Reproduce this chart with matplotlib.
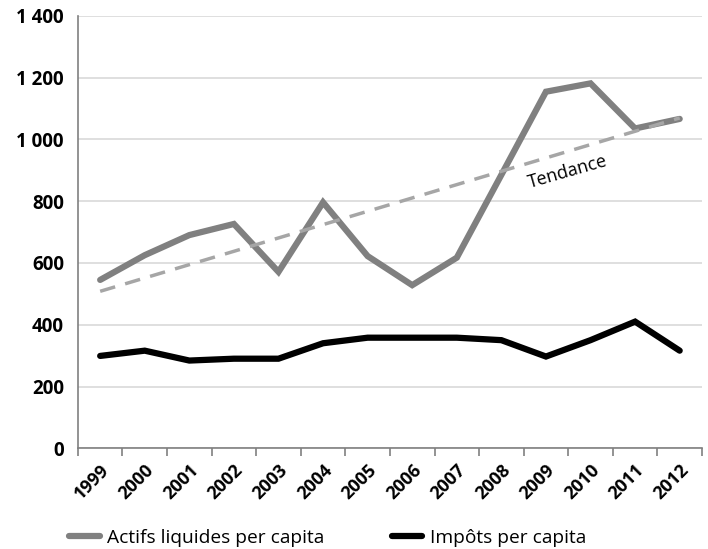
import numpy as np
import matplotlib
matplotlib.use("Agg")
import matplotlib.pyplot as plt
from matplotlib.ticker import FuncFormatter

years = ["1999", "2000", "2001", "2002", "2003", "2004", "2005", "2006",
         "2007", "2008", "2009", "2010", "2011", "2012"]
actifs = [545, 625, 690, 726, 571, 796, 622, 528, 617, 885, 1154, 1181, 1035, 1066]
impots = [299, 316, 284, 290, 290, 340, 358, 358, 358, 350, 297, 350, 410, 316]
yticks = [0, 200, 400, 600, 800, 1000, 1200, 1400]

plt.rcParams['font.family'] = ['Open Sans', 'DejaVu Sans']

fig = plt.figure(figsize=(7.08, 5.49), dpi=100)
ax = fig.add_axes([0.110, 0.1834, 0.8815, 0.788])

x = np.arange(len(years))
ax.plot(x, actifs, color='#808080', lw=4.5, solid_capstyle='round',
        solid_joinstyle='miter', label='Actifs liquides per capita', zorder=3)
ax.plot(x, impots, color='#000000', lw=4.5, solid_capstyle='round',
        solid_joinstyle='miter', label='Impôts per capita', zorder=3)

coef = np.polyfit(x, actifs, 1)
trend = np.polyval(coef, x)
ax.plot(x, trend, color='#a6a6a6', lw=2.5, ls=(0, (4.5, 3)), zorder=4)
ax.text(10.5, 893, 'Tendance', rotation=16, ha='center', va='center',
        fontsize=13, color='#000000', rotation_mode='anchor')

ax.set_xlim(-0.5, len(years) - 0.5)
ax.set_ylim(0, 1400)
ax.set_yticks(yticks)
ax.yaxis.set_major_formatter(FuncFormatter(lambda v, p: f"{int(v):,}".replace(",", " ")))
ax.grid(axis='y', color='#d9d9d9', lw=1.2)
ax.set_axisbelow(True)

ax.set_xticks(x)
ax.set_xticklabels(years, rotation=45, ha='right', rotation_mode='anchor',
                   fontsize=13, fontweight='bold')
ax.set_xticks(np.arange(-0.5, len(years)), minor=True)
ax.tick_params(axis='x', which='major', length=0, pad=9)
ax.tick_params(axis='x', which='minor', length=6, color='#808080', width=1.2)
ax.tick_params(axis='y', length=0, labelsize=13.5, pad=10)
for lab in ax.get_yticklabels():
    lab.set_fontweight('bold')

for s in ['top', 'right']:
    ax.spines[s].set_visible(False)
ax.spines['left'].set_color('#808080')
ax.spines['bottom'].set_color('#808080')
ax.spines['left'].set_linewidth(1.2)
ax.spines['bottom'].set_linewidth(1.2)

leg = fig.legend(loc='lower left', bbox_to_anchor=(0.073, -0.028), ncol=2,
                 frameon=False, fontsize=13.8, handlelength=1.6,
                 columnspacing=3.5, handletextpad=0.4)

fig.savefig('out.png', dpi=100)
